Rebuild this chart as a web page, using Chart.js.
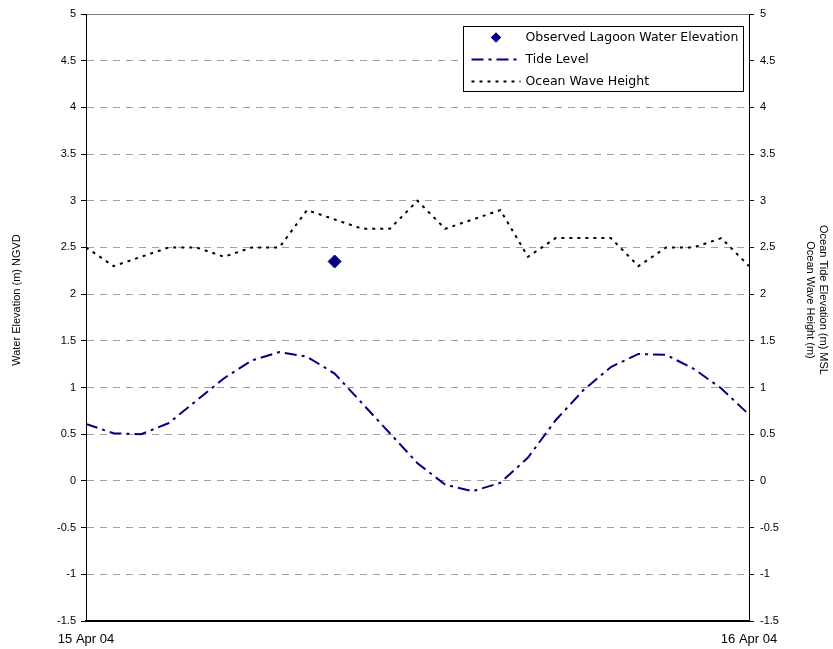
<!DOCTYPE html>
<html>
<head>
<meta charset="utf-8">
<title>Lagoon water elevation, 15-16 Apr 04</title>
<script src="https://cdn.jsdelivr.net/npm/chart.js@4.4.1/dist/chart.umd.min.js"></script>
<style>
  html, body { margin: 0; padding: 0; background: #fff; }
  canvas { display: block; }
</style>
</head>
<body>
<canvas id="chart" width="833" height="649"></canvas>
<script>
// hourly readings from 15 Apr 04 00:00 to 16 Apr 04 00:00
const hours = [0, 1, 2, 3, 4, 5, 6, 7, 8, 9, 10, 11, 12,
               13, 14, 15, 16, 17, 18, 19, 20, 21, 22, 23, 24];
const tideLevel = [0.61, 0.51, 0.50, 0.62, 0.86, 1.10, 1.29, 1.38, 1.33, 1.15, 0.83, 0.51, 0.19,
                   -0.04, -0.11, -0.02, 0.25, 0.65, 0.97, 1.22, 1.36, 1.35, 1.20, 0.99, 0.71];
const waveHeight = [2.5, 2.3, 2.4, 2.5, 2.5, 2.4, 2.5, 2.5, 2.9, 2.8, 2.7, 2.7, 3.0,
                    2.7, 2.8, 2.9, 2.4, 2.6, 2.6, 2.6, 2.3, 2.5, 2.5, 2.6, 2.3];
const observedHour = [9];
const observedElevation = [2.35];
const dateLabels = ['15 Apr 04', '16 Apr 04'];
const leftTitle = 'Water Elevation (m) NGVD';
const rightTitle = ['Ocean Tide Elevation (m) MSL', 'Ocean Wave Height (m)'];

const NAVY = '#000080';
const FAMILY = '"Liberation Sans", Arial, sans-serif';
const axisFont = { family: FAMILY, size: 11 };
const dateFont = { family: FAMILY, size: 13 };
const legendFont = '12.5px "DejaVu Sans", Verdana, sans-serif';

const toPoints = (xs, ys) => xs.map((x, i) => ({ x: x, y: ys[i] }));

// boxed legend in the top right corner of the plot
const boxedLegend = {
  id: 'boxedLegend',
  afterDraw(chart) {
    const ctx = chart.ctx;
    const area = chart.chartArea;
    const w = 280, h = 65;
    const left = Math.round(area.right - 6 - w) + 0.5;
    const top = Math.round(area.top + 12) + 0.5;

    ctx.save();
    ctx.fillStyle = '#fff';
    ctx.fillRect(left, top, w, h);
    ctx.strokeStyle = '#000';
    ctx.lineWidth = 1;
    ctx.strokeRect(left, top, w, h);

    ctx.font = legendFont;
    ctx.textBaseline = 'middle';

    chart.data.datasets.forEach((ds, i) => {
      const cy = top + 11 + i * 22;
      const sx = left + 8, ex = left + 57;
      if (ds.showLine === false) {
        ctx.fillStyle = ds.backgroundColor;
        Chart.helpers.drawPoint(ctx, { pointStyle: 'rectRot', radius: 5, rotation: 0, borderWidth: 0 },
          (sx + ex) / 2, cy);
        ctx.fill();
      } else {
        ctx.beginPath();
        ctx.strokeStyle = ds.borderColor;
        ctx.lineWidth = ds.borderWidth;
        ctx.setLineDash(ds.borderDash || []);
        ctx.moveTo(sx, cy);
        ctx.lineTo(ex, cy);
        ctx.stroke();
        ctx.setLineDash([]);
      }
      ctx.fillStyle = '#000';
      ctx.fillText(ds.label, left + 62, cy);
    });
    ctx.restore();
  }
};

// rotated axis titles, set a little above the middle of the plot
const axisTitles = {
  id: 'axisTitles',
  afterDraw(chart) {
    const ctx = chart.ctx;
    const cy = 300;
    ctx.save();
    ctx.font = '11px ' + FAMILY;
    ctx.fillStyle = '#000';
    ctx.textAlign = 'center';
    ctx.textBaseline = 'middle';

    ctx.save();
    ctx.translate(17, cy);
    ctx.rotate(-Math.PI / 2);
    ctx.fillText(leftTitle, 0, 0);
    ctx.restore();

    // reads downwards, first line on the outside
    ctx.save();
    ctx.translate(823, cy);
    ctx.rotate(Math.PI / 2);
    rightTitle.forEach((line, i) => ctx.fillText(line, 0, i * 13));
    ctx.restore();

    ctx.restore();
  }
};

new Chart(document.getElementById('chart'), {
  type: 'line',
  data: {
    datasets: [
      {
        label: 'Observed Lagoon Water Elevation',
        data: toPoints(observedHour, observedElevation),
        yAxisID: 'y',
        showLine: false,
        pointStyle: 'rectRot',
        pointRadius: 6.5,
        backgroundColor: NAVY,
        borderColor: NAVY,
        borderWidth: 1
      },
      {
        label: 'Tide Level',
        data: toPoints(hours, tideLevel),
        yAxisID: 'y2',
        borderColor: NAVY,
        borderWidth: 2,
        borderDash: [12, 5, 3, 5],
        pointRadius: 0,
        tension: 0,
        fill: false
      },
      {
        label: 'Ocean Wave Height',
        data: toPoints(hours, waveHeight),
        yAxisID: 'y2',
        borderColor: '#000',
        borderWidth: 2,
        borderDash: [3, 5],
        pointRadius: 0,
        tension: 0,
        fill: false
      }
    ]
  },
  options: {
    responsive: false,
    animation: false,
    layout: { padding: { top: 14, bottom: 0, left: 0, right: 0 } },
    plugins: {
      legend: { display: false },
      tooltip: { enabled: false }
    },
    scales: {
      x: {
        type: 'linear',
        position: 'bottom',
        min: 0,
        max: 24,
        afterBuildTicks: scale => { scale.ticks = [{ value: 0 }, { value: 24 }]; },
        ticks: {
          callback: v => (v === 0 ? dateLabels[0] : dateLabels[1]),
          font: dateFont,
          color: '#000',
          padding: 11,
          maxRotation: 0,
          autoSkip: false
        },
        grid: { display: false, drawTicks: false },
        border: { display: true, color: '#000', width: 2 },
        afterFit: scale => { scale.height = 28; }
      },
      xTop: {
        type: 'linear',
        position: 'top',
        min: 0,
        max: 24,
        ticks: { display: false },
        grid: { display: false, drawTicks: false },
        border: { display: true, color: '#808080', width: 1 }
      },
      y: {
        position: 'left',
        min: -1.5,
        max: 5,
        ticks: {
          stepSize: 0.5,
          callback: v => String(v),
          font: axisFont,
          color: '#000',
          padding: 5
        },
        grid: { color: '#a0a0a0', lineWidth: 1, tickColor: '#000', tickLength: 5 },
        border: { display: true, color: '#000', width: 1, dash: [7, 6] },
        afterFit: scale => { scale.width = 86; }
      },
      y2: {
        position: 'right',
        min: -1.5,
        max: 5,
        ticks: {
          stepSize: 0.5,
          callback: v => String(v),
          font: axisFont,
          color: '#000',
          padding: 6
        },
        grid: { drawOnChartArea: false, tickColor: '#000', tickLength: 5 },
        border: { display: true, color: '#000', width: 1 },
        afterFit: scale => { scale.width = 84; }
      }
    }
  },
  plugins: [boxedLegend, axisTitles]
});
</script>
</body>
</html>
